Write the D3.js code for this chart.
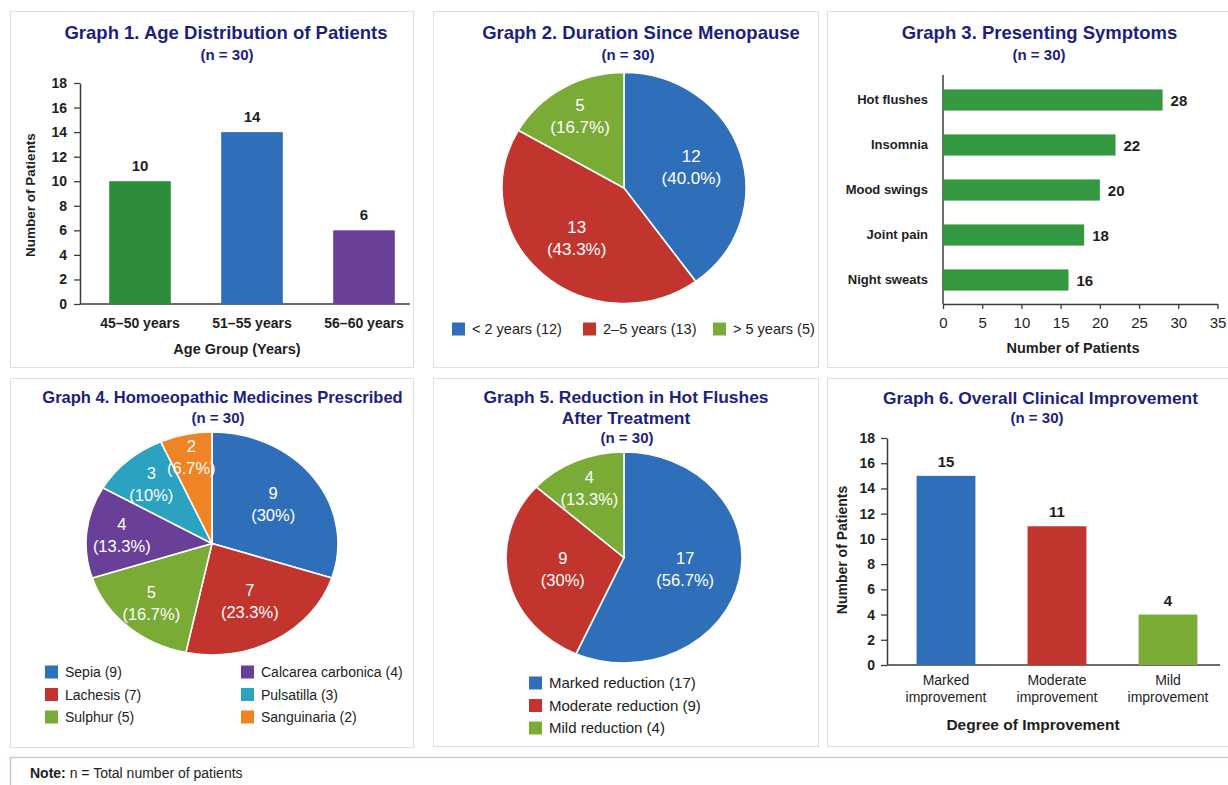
<!DOCTYPE html>
<html><head><meta charset="utf-8">
<script src="https://cdn.jsdelivr.net/npm/d3@7"></script>
<style>
html,body{margin:0;padding:0;background:#fff;}
svg{display:block;font-family:"Liberation Sans",Arial,Helvetica,sans-serif;}
</style></head><body>
<svg id="chart" width="1228" height="785"></svg>
<script>
// ---------- DATA ----------
const ageGroups = ["45–50 years", "51–55 years", "56–60 years"];
const ageCounts = [10, 14, 6];

const durationLabels = ["< 2 years", "2–5 years", "> 5 years"];
const durationCounts = [12, 13, 5];

const symptoms = ["Hot flushes", "Insomnia", "Mood swings", "Joint pain", "Night sweats"];
const symptomCounts = [28, 22, 20, 18, 16];

const medicines = ["Sepia", "Lachesis", "Sulphur", "Calcarea carbonica", "Pulsatilla", "Sanguinaria"];
const medicineCounts = [9, 7, 5, 4, 3, 2];

const reductionLabels = ["Marked reduction", "Moderate reduction", "Mild reduction"];
const reductionCounts = [17, 9, 4];

const improvementLabels = ["Marked improvement", "Moderate improvement", "Mild improvement"];
const improvementCounts = [15, 11, 4];

const countTicks = [0, 2, 4, 6, 8, 10, 12, 14, 16, 18];
const symptomTicks = [0, 5, 10, 15, 20, 25, 30, 35];
const sampleSize = 30;

// ---------- STYLE ----------
const NAVY = "#1d1f7d", TXT = "#1e1e1e", AX = "#3c3c3c";
const C = {blue:"#2f6fb9", green:"#2f8c3b", purple:"#6a3f98", red:"#c2342e",
           lime:"#7aab36", teal:"#2aa2c0", orange:"#ee8425", barGreen:"#33983f"};

const svg = d3.select("#chart");

function panel(x, y, w, h) {
  svg.append("rect").attr("x", x + 0.5).attr("y", y + 0.5).attr("width", w).attr("height", h)
    .attr("fill", "#fff").attr("stroke", "#dcdfea").attr("stroke-width", 1);
}
function text(x, y, s, o = {}) {
  return svg.append("text").attr("x", x).attr("y", y).text(s)
    .attr("text-anchor", o.anchor || "middle")
    .attr("font-size", o.size || 14)
    .attr("font-weight", o.weight || "normal")
    .attr("fill", o.fill || TXT);
}
function title(lines, cx, cy, size) {
  lines.forEach((l, i) => text(cx[i], cy[i], l, {size: i === lines.length - 1 ? 15 : size, weight: "bold", fill: NAVY}));
}
function styleAxis(g, fs, weight) {
  g.selectAll(".domain").attr("stroke", AX).attr("stroke-width", 1.5);
  g.selectAll(".tick line").attr("stroke", AX).attr("stroke-width", 1.3);
  g.selectAll(".tick text").attr("font-size", fs).attr("font-weight", weight).attr("fill", TXT)
    .attr("font-family", "Liberation Sans, Arial, sans-serif");
}
const pctStrip = v => { const s = d3.format(".1f")(v); return s.endsWith(".0") ? s.slice(0, -2) : s; };
const pctFixed = v => d3.format(".1f")(v);

function pie(cx, cy, rx, ry, values, colors, fs, fmt, kBig) {
  const total = d3.sum(values);
  const arcs = d3.pie().sort(null).value(d => d)(values);
  const arc = d3.arc().innerRadius(0).outerRadius(rx);
  const g = svg.append("g").attr("transform", `translate(${cx},${cy}) scale(1,${ry / rx})`);
  g.selectAll("path").data(arcs).join("path").attr("d", arc)
    .attr("fill", (d, i) => colors[i]).attr("stroke", "#fff").attr("stroke-width", 1.6)
    .attr("vector-effect", "non-scaling-stroke");
  arcs.forEach(a => {
    const m = (a.startAngle + a.endAngle) / 2, p = a.value / total;
    const k = p < 0.09 ? 0.79 : (p < 0.2 ? 0.72 : kBig);
    const x = cx + Math.sin(m) * k * rx, y = cy - Math.cos(m) * k * ry;
    const t = svg.append("text").attr("text-anchor", "middle").attr("fill", "#fff").attr("font-size", fs);
    t.append("tspan").attr("x", x).attr("y", y - 5).text(a.value);
    t.append("tspan").attr("x", x).attr("y", y + 17).text("(" + fmt(p * 100) + "%)");
  });
}
function legendItem(x, y, color, label, fs) {
  svg.append("rect").attr("x", x).attr("y", y - 6.5).attr("width", 13).attr("height", 13).attr("fill", color);
  text(x + 20, y + fs * 0.36, label, {anchor: "start", size: fs, fill: "#222"});
}

// ---------- PANELS ----------
panel(10, 11, 403, 356);
panel(433, 11, 385, 356);
panel(827, 11, 420, 356);
panel(10, 378, 403, 369);
panel(433, 378, 385, 368);
panel(827, 378, 420, 368);

const nTxt = `(n = ${sampleSize})`;

// ---------- GRAPH 1 ----------
title(["Graph 1. Age Distribution of Patients", nTxt], [226, 227], [38.5, 60], 18.5);
{
  const y = d3.scaleLinear().domain([0, 18]).range([304, 83]);
  const x = d3.scaleBand().domain(ageGroups).range([84, 420]).paddingInner(0.45).paddingOuter(0.225);
  const cols = [C.green, C.blue, C.purple];
  const ya = svg.append("g").attr("transform", "translate(80,0)")
    .call(d3.axisLeft(y).tickValues(countTicks).tickSize(6).tickSizeOuter(0).tickPadding(7));
  styleAxis(ya, 14, "bold");
  const xa = svg.append("g").attr("transform", "translate(0,304)")
    .call(d3.axisBottom(x).tickSize(0).tickPadding(14));
  xa.select(".domain").remove();
  styleAxis(xa, 14, "bold");
  svg.append("line").attr("x1", 80).attr("x2", 410).attr("y1", 304).attr("y2", 304).attr("stroke", AX).attr("stroke-width", 1.5);
  svg.append("g").selectAll("rect").data(ageCounts).join("rect")
    .attr("x", (d, i) => x(ageGroups[i])).attr("width", x.bandwidth())
    .attr("y", d => y(d)).attr("height", d => y(0) - y(d)).attr("fill", (d, i) => cols[i]);
  ageCounts.forEach((d, i) => text(x(ageGroups[i]) + x.bandwidth() / 2, y(d) - 10, d, {size: 15, weight: "bold"}));
  text(237, 354, "Age Group (Years)", {size: 14.5, weight: "bold"});
  text(0, 0, "Number of Patients", {size: 13.5, weight: "bold"}).attr("transform", "translate(35,195) rotate(-90)");
}

// ---------- GRAPH 2 ----------
title(["Graph 2. Duration Since Menopause", nTxt], [641, 628], [38.5, 60], 18.5);
pie(624, 188, 122, 115.5, durationCounts, [C.blue, C.red, C.lime], 17, pctFixed, 0.58);
[[452, C.blue], [583, C.red], [713, C.lime]].forEach((p, i) =>
  legendItem(p[0], 329, p[1], `${durationLabels[i]} (${durationCounts[i]})`, 14.5));

// ---------- GRAPH 3 ----------
title(["Graph 3. Presenting Symptoms", nTxt], [1039.5, 1039], [38.5, 60], 18.5);
{
  const x = d3.scaleLinear().domain([0, 35]).range([943, 1217.5]);
  const y = d3.scaleBand().domain(symptoms).range([77.5, 302.5]).paddingInner(0.53).paddingOuter(0.265);
  const ya = svg.append("g").attr("transform", "translate(943,0)").call(d3.axisLeft(y).tickSize(0).tickPadding(15));
  ya.select(".domain").remove();
  styleAxis(ya, 13, "bold");
  svg.append("line").attr("x1", 943).attr("x2", 943).attr("y1", 75).attr("y2", 304).attr("stroke", AX).attr("stroke-width", 1.5);
  const xa = svg.append("g").attr("transform", "translate(0,304)")
    .call(d3.axisBottom(x).tickValues(symptomTicks).tickSize(5).tickSizeOuter(0).tickPadding(8));
  styleAxis(xa, 15, "normal");
  svg.append("g").selectAll("rect").data(symptomCounts).join("rect")
    .attr("x", x(0)).attr("y", (d, i) => y(symptoms[i])).attr("height", y.bandwidth())
    .attr("width", d => x(d) - x(0)).attr("fill", C.barGreen);
  symptomCounts.forEach((d, i) => text(x(d) + 8, y(symptoms[i]) + y.bandwidth() / 2 + 5.5, d,
    {anchor: "start", size: 15, weight: "bold"}));
  text(1073, 353, "Number of Patients", {size: 14.5, weight: "bold"});
}

// ---------- GRAPH 4 ----------
title(["Graph 4. Homoeopathic Medicines Prescribed", nTxt], [222.5, 218], [403, 423], 16.5);
{
  const cols = [C.blue, C.red, C.lime, C.purple, C.teal, C.orange];
  pie(212, 543.5, 126, 111.5, medicineCounts, cols, 16.5, pctStrip, 0.6);
  medicines.forEach((m, i) => {
    const col = Math.floor(i / 3), row = i % 3;
    legendItem(col ? 241 : 45, 672 + row * 22.5, cols[i], `${m} (${medicineCounts[i]})`, 14);
  });
}

// ---------- GRAPH 5 ----------
title(["Graph 5. Reduction in Hot Flushes", "After Treatment", nTxt], [626, 626, 627], [403, 424, 443], 17.4);
{
  const cols = [C.blue, C.red, C.lime];
  pie(624, 557.5, 118, 105.5, reductionCounts, cols, 16.5, pctStrip, 0.53);
  reductionLabels.forEach((l, i) => legendItem(529, 683 + i * 22.5, cols[i], `${l} (${reductionCounts[i]})`, 15));
}

// ---------- GRAPH 6 ----------
title(["Graph 6. Overall Clinical Improvement", nTxt], [1040.5, 1037], [404, 423], 17.4);
{
  const y = d3.scaleLinear().domain([0, 18]).range([665, 438]);
  const x = d3.scaleBand().domain(improvementLabels).range([890.5, 1223.5]).paddingInner(0.47).paddingOuter(0.235);
  const cols = [C.blue, C.red, C.lime];
  const ya = svg.append("g").attr("transform", "translate(887,0)")
    .call(d3.axisLeft(y).tickValues(countTicks).tickSize(6).tickSizeOuter(0).tickPadding(6));
  styleAxis(ya, 14, "bold");
  const xa = svg.append("g").attr("transform", "translate(0,665)").call(d3.axisBottom(x).tickSize(0));
  xa.select(".domain").remove();
  styleAxis(xa, 14, "normal");
  xa.selectAll(".tick text").each(function (d) {
    const t = d3.select(this).text("").attr("dy", null).attr("y", null);
    const parts = d.split(" ");
    t.append("tspan").attr("x", 0).attr("y", 20).text(parts[0]);
    t.append("tspan").attr("x", 0).attr("y", 37).text(parts.slice(1).join(" "));
  });
  svg.append("line").attr("x1", 887).attr("x2", 1220).attr("y1", 665).attr("y2", 665).attr("stroke", AX).attr("stroke-width", 1.5);
  svg.append("g").selectAll("rect").data(improvementCounts).join("rect")
    .attr("x", (d, i) => x(improvementLabels[i])).attr("width", x.bandwidth())
    .attr("y", d => y(d)).attr("height", d => y(0) - y(d)).attr("fill", (d, i) => cols[i]);
  improvementCounts.forEach((d, i) => text(x(improvementLabels[i]) + x.bandwidth() / 2, y(d) - 9, d, {size: 15, weight: "bold"}));
  text(1033, 730, "Degree of Improvement", {size: 15.5, weight: "bold"});
  text(0, 0, "Number of Patients", {size: 14, weight: "bold"}).attr("transform", "translate(847,550) rotate(-90)");
}

// ---------- NOTE ----------
svg.append("rect").attr("x", 10.5).attr("y", 757.5).attr("width", 1240).attr("height", 40)
  .attr("fill", "#fff").attr("stroke", "#c6c6de").attr("stroke-width", 1.5);
const note = svg.append("text").attr("x", 30).attr("y", 778).attr("font-size", 14).attr("fill", TXT);
note.append("tspan").attr("font-weight", "bold").text("Note:");
note.append("tspan").text(" n = Total number of patients");
</script>
</body></html>
